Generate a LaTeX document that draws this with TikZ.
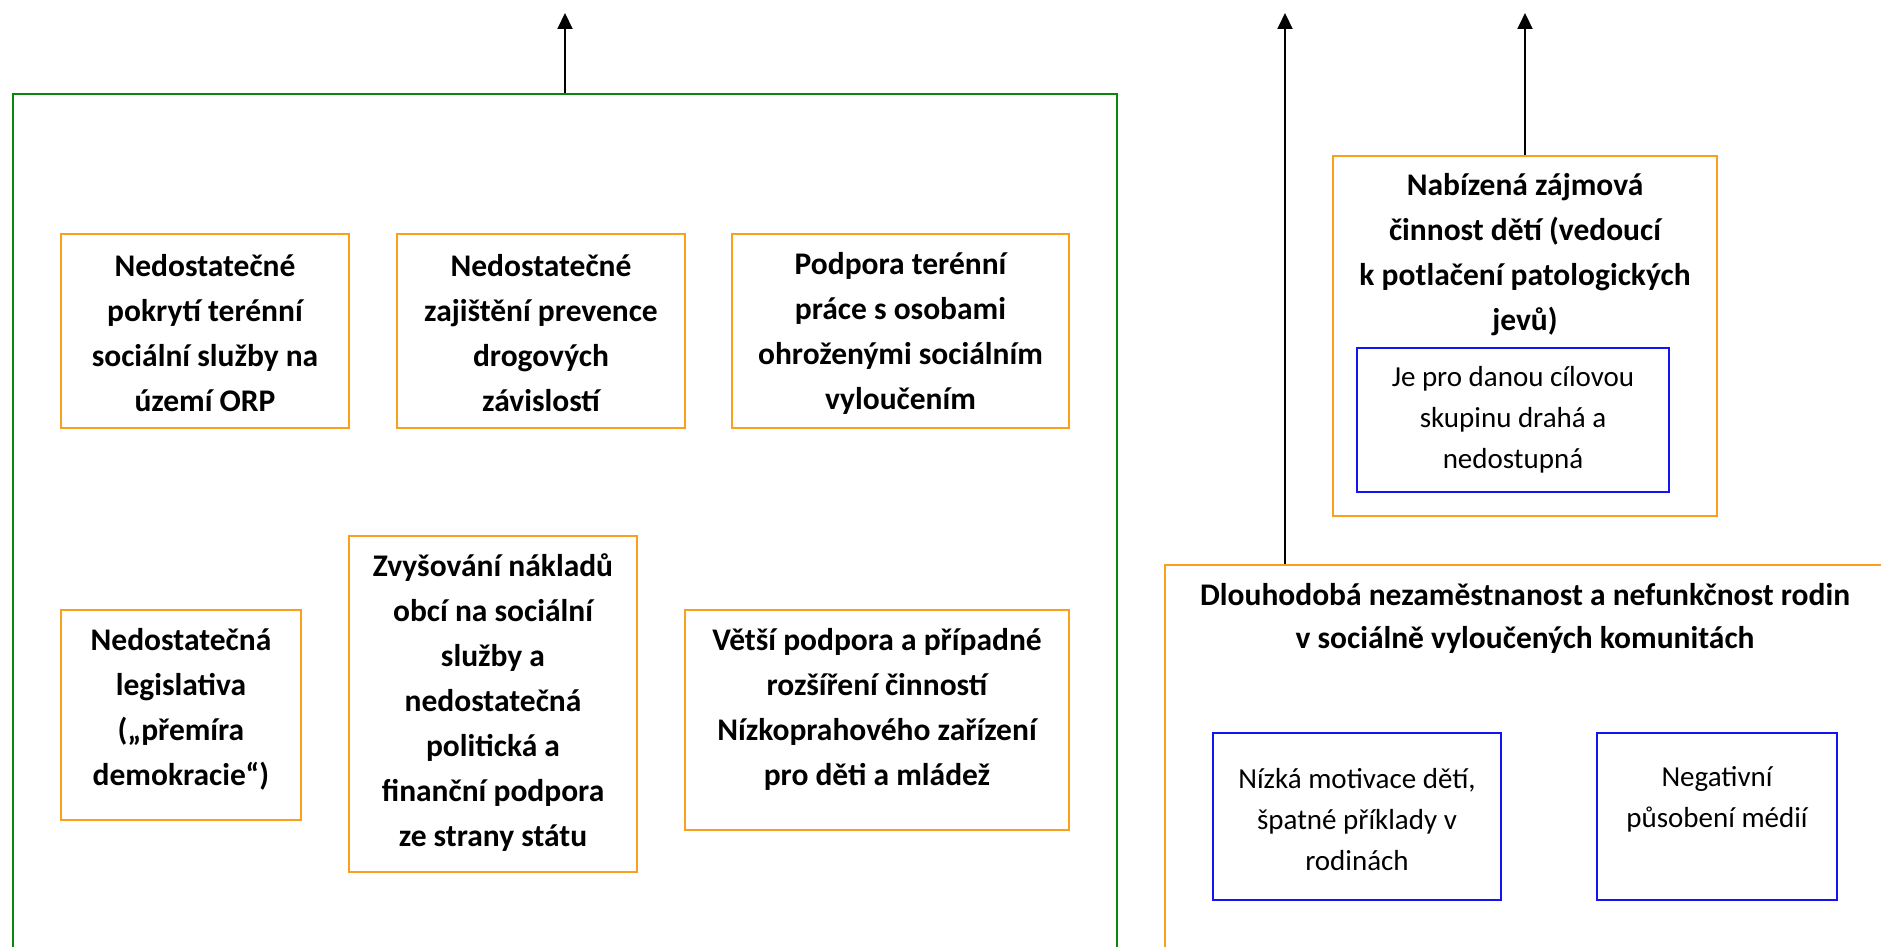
\documentclass[tikz,border=0pt]{standalone}
\usepackage{fontspec}
\setmainfont{Carlito}
\usetikzlibrary{arrows.meta}
\definecolor{orangec}{RGB}{250,160,30}
\definecolor{bluec}{RGB}{20,20,240}
\definecolor{greenc}{RGB}{10,135,10}
\tikzset{
  obox/.style={draw=orangec, line width=2.2pt, inner sep=0pt, rectangle},
  bbox/.style={draw=bluec, line width=2.2pt, inner sep=0pt, rectangle},
  gbox/.style={draw=greenc, line width=2pt, inner sep=0pt, rectangle},
  btxt/.style={font=\fontsize{31.5}{45}\selectfont\bfseries, align=center, inner sep=0pt},
  rtxt/.style={font=\fontsize{29}{41}\selectfont, align=center, inner sep=0pt},
  arr/.style={-{Triangle[length=16pt,width=15pt]}, line width=2pt, black}
}
\begin{document}
\begin{tikzpicture}[x=1pt,y=-1pt]
\useasboundingbox (0,0) rectangle (1881,947);
\clip (0,0) rectangle (1881,947);
\fill[white] (0,0) rectangle (1881,947);
% green container
\node[gbox, minimum width=1104pt, minimum height=906pt] (Gr) at (565,547) {};
% left boxes
\node[obox, minimum width=288pt, minimum height=194pt] (A) at (205,331) {};
\node[btxt] (At) at (205,333) {Nedostatečné\\pokrytí terénní\\sociální služby na\\území ORP};
\node[obox, minimum width=288pt, minimum height=194pt] (B) at (541,331) {};
\node[btxt] (Bt) at (541,333) {Nedostatečné\\zajištění prevence\\drogových\\závislostí};
\node[obox, minimum width=337pt, minimum height=194pt] (C) at (900.5,331) {};
\node[btxt] (Ct) at (900.5,333) {Podpora terénní\\práce s osobami\\ohroženými sociálním\\vyloučením};
\node[obox, minimum width=240pt, minimum height=210pt] (D) at (181,715) {};
\node[btxt] (Dt) at (181,709) {Nedostatečná\\legislativa\\(„přemíra\\demokracie“)};
\node[obox, minimum width=288pt, minimum height=336pt] (E) at (493,704) {};
\node[btxt] (Et) at (493,703) {Zvyšování nákladů\\obcí na sociální\\služby a\\nedostatečná\\politická a\\finanční podpora\\ze strany státu};
\node[obox, minimum width=384pt, minimum height=220pt] (F) at (877,720) {};
\node[btxt] (Ft) at (877,709) {Větší podpora a případné\\rozšíření činností\\Nízkoprahového zařízení\\pro děti a mládež};
% right side
\node[obox, minimum width=384pt, minimum height=360pt] (G) at (1525,336) {};
\node[btxt] (Gt) at (1525,255) {Nabízená zájmová\\činnost dětí (vedoucí\\k potlačení patologických\\jevů)};
\node[bbox, minimum width=312pt, minimum height=144pt] (K) at (1513,420) {};
\node[rtxt] (Kt) at (1513,420) {Je pro danou cílovou\\skupinu drahá a\\nedostupná};
\node[obox, minimum width=720pt, minimum height=435pt] (H) at (1525,782.5) {};
\node[btxt, font=\fontsize{31.5}{43}\selectfont\bfseries] (Ht) at (1525,618.5) {Dlouhodobá nezaměstnanost a nefunkčnost rodin\\v sociálně vyloučených komunitách};
\node[bbox, minimum width=288pt, minimum height=167pt] (I) at (1357,816.5) {};
\node[rtxt] (It) at (1357,820) {Nízká motivace dětí,\\špatné příklady v\\rodinách};
\node[bbox, minimum width=240pt, minimum height=167pt] (J) at (1717,816.5) {};
\node[rtxt] (Jt) at (1717,799.5) {Negativní\\působení médií};
% arrows
\coordinate (t1) at (565,13);
\coordinate (t2) at (1285,13);
\coordinate (t3) at (1525,13);
\draw[arr] (Gr.north) -- (t1);
\draw[arr] (H.north -| t2) -- (t2);
\draw[arr] (G.north) -- (t3);
\end{tikzpicture}
\end{document}
